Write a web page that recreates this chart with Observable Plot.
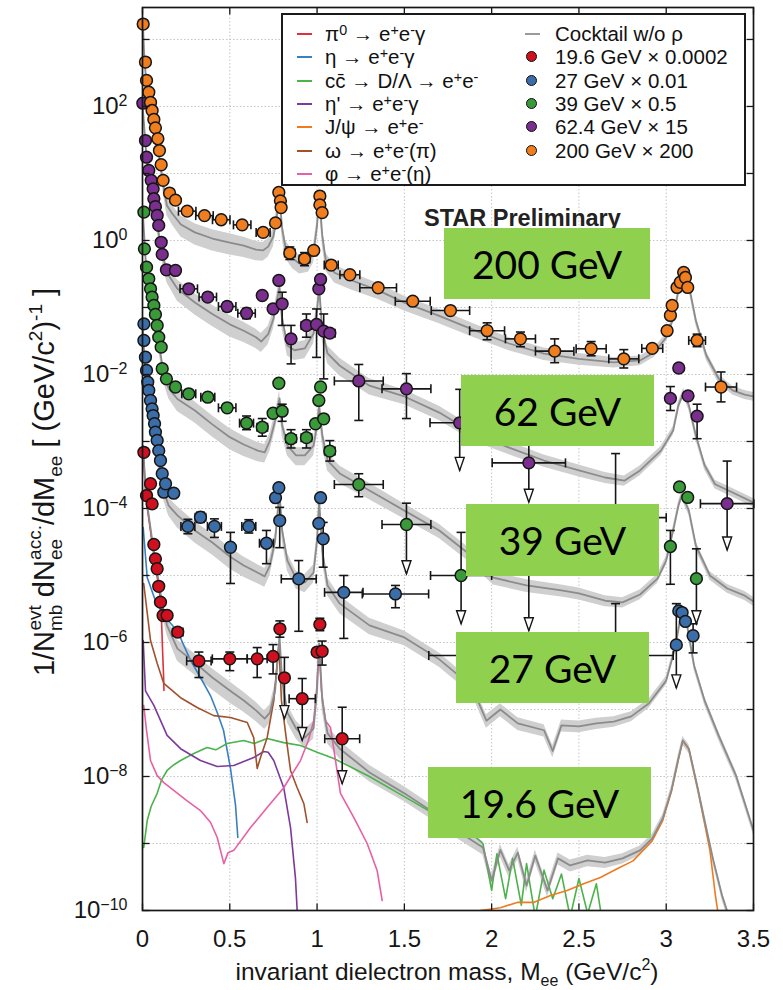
<!DOCTYPE html>
<html>
<head>
<meta charset="utf-8">
<script src="https://cdn.jsdelivr.net/npm/d3@7"></script>
<script src="https://cdn.jsdelivr.net/npm/@observablehq/plot@0.6"></script>
<style>
  body { margin: 0; background: #fff; font-family: "Liberation Sans", Arial, sans-serif; overflow: hidden; }
  #wrap { position: relative; width: 783px; height: 990px; }
  .legend { position: absolute; left: 281px; top: 13px; width: 465px; height: 173px; box-sizing: border-box;
            border: 2px solid #1a1a1a; background: #fff; font-size: 20.5px; color: #111; }
  .row { position: absolute; height: 22px; line-height: 22px; white-space: nowrap; }
  .row sup { font-size: 0.7em; vertical-align: 0.45em; line-height: 0; }
  .sw { position: absolute; top: 10px; width: 15px; height: 2px; }
  .mk { position: absolute; top: 5px; width: 9px; height: 9px; border-radius: 50%; border: 1.5px solid #111; }
  .tag { position: absolute; background: #8fd14f; color: #000; font-family: Lato, "Open Sans", sans-serif;
         font-size: 39px; display: flex; align-items: center; justify-content: center; }
</style>
</head>
<body>
<div id="wrap"></div>
<script>
// ---- axis ticks -----------------------------------------------------------
const massTicks = [0, 0.5, 1, 1.5, 2, 2.5, 3, 3.5];
const labelDecades = [1e-10, 1e-8, 1e-6, 1e-4, 1e-2, 1e0, 1e2];
const allDecades = [1e-10, 1e-9, 1e-8, 1e-7, 1e-6, 1e-5, 1e-4, 1e-3, 1e-2, 1e-1, 1e0, 1e1, 1e2, 1e3];
const yMin = 1e-10, yMax = 3000;

// ---- cocktail without rho, scaled per energy: [mass, yield] ----------------
const cocktail196 = [[0.003,8.7e-4],[0.02,1.56e-4],[0.04,6.6e-5],[0.06,2.8e-5],[0.08,1.32e-5],[0.10,6.0e-6],[0.12,3.0e-6],[0.14,1.8e-6],[0.2,8.1e-7],[0.3,5.0e-7],[0.4,3.0e-7],[0.5,1.92e-7],[0.58,1.36e-7],[0.65,9.7e-8],[0.70,7.3e-8],[0.73,9.0e-8],[0.76,1.92e-7],[0.785,1.23e-6],[0.80,2.7e-7],[0.83,9.0e-8],[0.88,5.2e-8],[0.93,3.8e-8],[0.98,5.2e-8],[1.0,1.92e-7],[1.012,9.7e-7],[1.03,1.36e-7],[1.06,4.4e-8],[1.13,2.6e-8],[1.3,1.15e-8],[1.5,5.6e-9],[1.65,3.1e-9],[1.8,1.56e-9],[1.95,8.7e-10],[2.0,2.8e-10],[2.05,8.0e-10],[2.1,3.96e-10],[2.15,7.3e-10],[2.2,2.36e-10],[2.25,6.6e-10],[2.32,1.99e-10],[2.38,6.0e-10],[2.45,4.7e-10],[2.55,5.6e-10],[2.65,5.2e-10],[2.75,6.0e-10],[2.85,7.9e-10],[2.92,1.19e-9],[2.98,2.36e-9],[3.03,6.2e-9],[3.07,1.86e-8],[3.095,3.45e-8],[3.13,2.6e-8],[3.18,6.8e-9],[3.22,2.2e-9],[3.27,5.6e-10],[3.32,1.67e-10],[3.36,8e-11]];
const cocktail27 = [[0.003,0.045],[0.02,0.0068],[0.04,0.0029],[0.06,0.00146],[0.08,7.3e-4],[0.10,3.7e-4],[0.12,1.86e-4],[0.15,1.1e-4],[0.2,7.9e-5],[0.3,4.7e-5],[0.4,3.1e-5],[0.5,1.92e-5],[0.58,1.41e-5],[0.66,1.1e-5],[0.70,9.7e-6],[0.73,1.41e-5],[0.76,3.33e-5],[0.785,1.73e-4],[0.80,4.7e-5],[0.83,1.67e-5],[0.88,9.0e-6],[0.93,7.9e-6],[0.98,1.1e-5],[1.0,3.33e-5],[1.012,1.32e-4],[1.03,2.36e-5],[1.06,7.1e-6],[1.13,3.8e-6],[1.3,1.8e-6],[1.5,1.19e-6],[1.7,5.6e-7],[1.8,3.4e-7],[1.9,1.8e-7],[1.97,6.8e-8],[2.05,1.0e-7],[2.15,6.2e-8],[2.3,4.9e-8],[2.35,2.4e-8],[2.4,5.8e-8],[2.5,5.6e-8],[2.6,6.2e-8],[2.7,6.6e-8],[2.8,7.9e-8],[2.9,1.23e-7],[3.0,2.7e-7],[3.05,8.1e-7],[3.09,3.0e-6],[3.12,1.8e-6],[3.16,4.5e-7],[3.22,1.36e-7],[3.3,4.1e-8],[3.4,1.03e-8],[3.5,1.56e-9]];
const cocktail39 = [[0.003,2.36],[0.02,0.42],[0.04,0.18],[0.06,0.09],[0.08,0.045],[0.10,0.023],[0.12,0.0107],[0.15,0.0062],[0.2,0.0043],[0.3,0.0029],[0.4,0.0018],[0.5,0.00116],[0.58,9.0e-4],[0.66,7.3e-4],[0.70,6.9e-4],[0.73,1.03e-3],[0.76,2.06e-3],[0.785,4.4e-3],[0.80,1.73e-3],[0.83,8.7e-4],[0.88,6.2e-4],[0.93,6.2e-4],[0.98,8.7e-4],[1.0,1.73e-3],[1.012,3.45e-3],[1.03,1.23e-3],[1.06,5.2e-4],[1.13,3.33e-4],[1.3,1.86e-4],[1.5,9.3e-5],[1.7,4.7e-5],[1.86,2.2e-5],[2.01,9.3e-6],[2.2,7.1e-6],[2.4,6.0e-6],[2.5,5.4e-6],[2.65,4.2e-6],[2.75,3.96e-6],[2.85,5.2e-6],[2.95,9.0e-6],[3.0,1.67e-5],[3.04,4.7e-5],[3.07,1.1e-4],[3.09,1.6e-4],[3.13,9.3e-5],[3.17,2.8e-5],[3.25,1.0e-5],[3.35,6.4e-6],[3.45,5.0e-6],[3.5,4.1e-6]];
const cocktail62 = [[0.003,87],[0.02,22],[0.04,7.9],[0.06,3.96],[0.08,2.0],[0.10,1.0],[0.12,0.54],[0.14,0.33],[0.2,0.19],[0.3,0.119],[0.4,0.08],[0.5,0.056],[0.58,0.045],[0.65,0.036],[0.68,0.031],[0.72,0.04],[0.75,0.068],[0.77,0.127],[0.785,0.2],[0.80,0.068],[0.83,0.027],[0.87,0.023],[0.93,0.0245],[0.98,0.041],[1.0,0.09],[1.012,0.2],[1.03,0.045],[1.06,0.0206],[1.13,0.0135],[1.3,0.0068],[1.5,0.0047],[1.7,0.0027],[1.9,0.0013],[2.1,8.1e-4],[2.3,5.2e-4],[2.5,3.7e-4],[2.65,2.9e-4],[2.76,2.6e-4],[2.85,3.7e-4],[2.97,7.3e-4],[3.04,1.46e-3],[3.07,3.45e-3],[3.10,5.4e-3],[3.13,3.45e-3],[3.17,1.23e-3],[3.22,4.4e-4],[3.28,2.3e-4],[3.38,1.73e-4],[3.5,1.23e-4]];
const cocktail200 = [[0.003,1560],[0.01,577],[0.02,262],[0.04,123],[0.06,66],[0.08,31],[0.10,15.6],[0.12,6.6],[0.14,3.33],[0.17,2.53],[0.22,1.73],[0.3,1.32],[0.4,1.07],[0.5,0.93],[0.58,0.84],[0.65,0.73],[0.69,0.71],[0.72,0.81],[0.75,1.15],[0.77,2.36],[0.785,4.4],[0.80,1.51],[0.82,0.76],[0.86,0.54],[0.90,0.45],[0.95,0.48],[0.98,0.66],[1.0,1.67],[1.012,4.7],[1.03,1.19],[1.05,0.50],[1.1,0.33],[1.2,0.253],[1.35,0.18],[1.5,0.118],[1.7,0.075],[1.9,0.046],[2.1,0.029],[2.3,0.0205],[2.5,0.0171],[2.7,0.0152],[2.85,0.0162],[2.93,0.0213],[3.0,0.0357],[3.04,0.0685],[3.07,0.179],[3.10,0.37],[3.13,0.213],[3.17,0.064],[3.23,0.0192],[3.3,0.0087],[3.38,0.0058],[3.45,0.005],[3.5,0.0047]];

// relative width of the cocktail systematic band vs. mass
const bandMass = [0, 0.1, 0.2, 0.5, 0.75, 1.1, 1.5, 2.5, 3.0, 3.5];
const bandFrac = [0.10, 0.25, 0.35, 0.35, 0.30, 0.30, 0.25, 0.20, 0.15, 0.15];

// ---- cocktail components at 19.6 GeV (x 0.0002): [mass, yield] -------------
const pi0Dalitz = [[0.003,8.0e-4],[0.02,1.4e-4],[0.04,6.0e-5],[0.06,2.5e-5],[0.08,1.15e-5],[0.10,5.0e-6],[0.105,3.6e-6],[0.11,1.8e-6],[0.115,7.6e-7],[0.12,3.6e-7],[0.123,1.92e-7]];
const etaDalitz = [[0.004,5.2e-5],[0.027,9.3e-6],[0.074,4.2e-6],[0.122,2.5e-6],[0.199,1.5e-6],[0.275,5.4e-7],[0.332,3.0e-7],[0.39,1.6e-7],[0.428,9e-8],[0.464,4.9e-8],[0.504,1.32e-8],[0.533,3.7e-9],[0.546,1.23e-9]];
const ccbar = [[0.007,8.7e-10],[0.027,2.2e-9],[0.05,3.6e-9],[0.084,5.6e-9],[0.11,9e-9],[0.141,1.23e-8],[0.18,1.5e-8],[0.218,1.73e-8],[0.294,2.2e-8],[0.37,2.7e-8],[0.42,2.5e-8],[0.485,3.1e-8],[0.58,3.45e-8],[0.64,3.1e-8],[0.714,3.7e-8],[0.809,3.2e-8],[0.905,2.9e-8],[1.0,2.3e-8],[1.096,1.86e-8],[1.3,1.0e-8],[1.5,5.0e-9],[1.7,2.5e-9],[1.9,1.3e-9],[1.95,1.0e-9],[2.0,2e-10],[2.03,7e-10],[2.08,1.5e-10],[2.12,6e-10],[2.17,1.2e-10],[2.2,5e-10],[2.25,8e-11],[2.3,4e-10],[2.35,1.5e-10],[2.4,3.5e-10],[2.45,8e-11],[2.5,3e-10],[2.55,9e-11],[2.6,2.5e-10],[2.63,8e-11]];
const etaPrime = [[0.004,1.07e-6],[0.017,1.9e-7],[0.065,1.15e-7],[0.141,4.1e-8],[0.218,2.6e-8],[0.332,1.73e-8],[0.428,1.41e-8],[0.523,1.46e-8],[0.637,1.92e-8],[0.695,2.36e-8],[0.72,2.3e-8],[0.752,1.73e-8],[0.809,6.8e-9],[0.848,1.73e-9],[0.876,3.1e-10],[0.886,1e-10],[0.89,5e-11]];
const jpsi = [[1.936,1e-10],[2.05,1.1e-10],[2.146,1.32e-10],[2.24,1.32e-10],[2.337,1.67e-10],[2.432,1.99e-10],[2.527,2.5e-10],[2.623,3.1e-10],[2.719,4.2e-10],[2.81,5.5e-10],[2.92,1.1e-9],[2.98,2.2e-9],[3.03,6.0e-9],[3.07,1.8e-8],[3.095,3.4e-8],[3.13,2.55e-8],[3.18,6.6e-9],[3.22,2.0e-9],[3.25,8e-10],[3.282,1.67e-10],[3.3,8e-11]];
const omegaDecay = [[0.007,7.6e-6],[0.046,1.07e-6],[0.084,4.9e-7],[0.122,2.45e-7],[0.218,1.5e-7],[0.313,1.07e-7],[0.408,8.1e-8],[0.504,7.6e-8],[0.60,6.4e-8],[0.637,3.8e-8],[0.657,1.32e-8],[0.676,1.92e-8],[0.714,3.8e-8],[0.752,1.36e-7],[0.781,9e-7],[0.796,1.36e-7],[0.825,3.45e-8],[0.848,1.23e-8],[0.886,6.8e-9],[0.924,3.96e-9],[0.943,2.06e-9]];
const phiDecay = [[0.007,1.15e-7],[0.023,4.9e-8],[0.046,1.73e-8],[0.084,1.03e-8],[0.122,8.1e-9],[0.179,6.2e-9],[0.252,4.4e-9],[0.332,3.1e-9],[0.39,2.06e-9],[0.428,1.23e-9],[0.466,5.0e-10],[0.49,7.3e-10],[0.523,7.9e-10],[0.619,1.73e-9],[0.714,3.45e-9],[0.809,6.8e-9],[0.905,1.73e-8],[0.95,3.45e-8],[0.981,6.8e-8],[0.997,1.92e-7],[1.011,9e-7],[1.025,1.92e-7],[1.048,6.8e-8],[1.077,5.4e-8],[1.134,5.6e-9],[1.21,2.45e-9],[1.287,1.0e-9],[1.344,3.96e-10],[1.373,1.41e-10]];

// ---- measured yields: [mass, yield, dM (half width or [lo, hi]), yLow, yHigh, upperLimit] ----
const data196 = [[0.008,6.9e-4],[0.023,1.56e-4],[0.046,2.34e-4],[0.055,1.17e-4],[0.065,2.9e-5],[0.074,1.77e-5],[0.084,1.26e-5],[0.093,6.9e-6],[0.103,4.0e-6],[0.118,2.53e-6],[0.141,2.53e-6],
  [0.202,1.43e-6,0.03],[0.323,5.3e-7,0.07,3.0e-7,7.2e-7],[0.50,5.7e-7,0.1,3.8e-7,7.2e-7],[0.657,5.7e-7,0.057,3.0e-7,8.4e-7],[0.748,6.2e-7,0,3.4e-7,9.3e-7],[0.787,1.6e-6,0,1.2e-6,2.1e-6],
  [0.813,2.97e-7,0,7.3e-8,6.0e-7,true],[0.915,1.45e-7,0.075,3.45e-8,2.9e-7,true],[1.0,7.2e-7],[1.016,1.86e-6,0,1.5e-6,2.3e-6],[1.029,7.4e-7,0,4.6e-7,1.05e-6],[1.144,3.66e-8,0.1,7.8e-9,1.08e-7,true]];
const data27 = [[0.008,0.057],[0.008,0.0322],[0.017,0.0181],[0.023,0.0115],[0.03,0.0077],[0.036,0.0058],[0.046,0.0041],[0.055,0.00307],[0.061,0.00244],[0.069,0.00184],[0.074,0.00138],[0.084,0.00104],[0.093,7.3e-4],[0.103,5.2e-4],[0.113,3.3e-4],[0.122,1.75e-4],[0.132,2.34e-4],[0.179,1.69e-4],
  [0.26,5.4e-5,0.04,4.2e-5,6.9e-5],[0.332,7.4e-5,0.03,6.2e-5,8.8e-5],[0.412,5.4e-5,0.04,3.7e-5,7e-5],[0.504,2.64e-5,0.02,7.6e-6,4.4e-5],[0.609,5.4e-5,0.04,4.3e-5,6.8e-5],[0.71,3.03e-5,0.04,1.5e-5,4.7e-5],
  [0.762,1.45e-4],[0.781,2.04e-4],[0.786,6.6e-5,0,2.6e-5,1.04e-4],[0.895,8.9e-6,0.1,1.47e-6,1.67e-5],[1.01,6.0e-5],[1.02,1.45e-4],[1.035,3.53e-5,0,1.33e-5,6.2e-5],
  [1.153,5.6e-6,0.11,1.15e-6,1.0e-5],[1.449,5.3e-6,0.19,3.3e-6,7.1e-6],[2.71,6.4e-7,[1.64,3.04],1.36e-7,3.8e-6,true],
  [3.058,9.2e-7,0,2.1e-7,3.8e-6,true],[3.072,2.96e-6],[3.091,2.8e-6],[3.11,2.06e-6],[3.154,1.26e-6,0,7.0e-7,1.9e-6]];
const data39 = [[0.008,2.65],[0.011,0.75],[0.023,0.40],[0.036,0.268],[0.046,0.19],[0.055,0.143],[0.065,0.107],[0.074,0.0787],[0.084,0.0538],[0.093,0.0361],[0.107,0.0256],[0.113,0.0122],[0.137,0.0086],[0.189,0.0065],
  [0.265,0.00515,0.04],[0.374,0.00458,0.04],[0.485,0.00318,0.05],[0.596,0.00188,0.04,0.0015,0.0024],[0.686,0.00163,0.03,0.0012,0.0022],[0.748,0.00264],[0.781,0.0074],[0.80,0.00283,0,0.002,0.0036],
  [0.851,0.0011,0.03,0.0008,0.0015],[0.939,0.00114,0.03,0.0008,0.0015],[0.991,0.00184],[1.01,0.0041],[1.02,0.0065],[1.038,0.00218],
  [1.073,7.2e-4,0.03,5.1e-4,1.03e-3],[1.239,2.28e-4,0.14,1.5e-4,3.3e-4],[1.512,5.77e-5,0.14,1.06e-5,1.2e-4,true],[1.825,1.0e-5,0.175,1.9e-6,4.4e-5,true],[2.213,1.9e-5,0.21,1.5e-6,4e-5,true],[2.71,7.3e-5,[2.42,3.0],1.2e-5,6.6e-4,true],
  [3.024,2.71e-5,0,7.4e-6,4.7e-5],[3.076,2.1e-4],[3.123,1.46e-4],[3.173,8.97e-6,0,1.9e-6,2.5e-5,true]];
const data62 = [[0.002,112],[0.017,31],[0.023,17.5],[0.036,11.1],[0.05,7.9],[0.061,5.9],[0.065,4.2],[0.074,3.2],[0.084,2.36],[0.093,1.68],[0.107,0.94],[0.113,0.62],[0.137,0.365],[0.189,0.357],
  [0.265,0.19,0.05],[0.374,0.143,0.05],[0.485,0.1035,0.05,0.088,0.12],[0.596,0.082,0.05,0.068,0.097],[0.686,0.151],[0.748,0.0955,0.02],[0.781,0.253],[0.80,0.1135,0,0.054,0.169],
  [0.851,0.034,0.02,0.0144,0.054],[0.939,0.0538,0.03,0.036,0.08],[0.997,0.0557,0,0.018,0.095],[1.01,0.19],[1.02,0.262],[1.038,0.0443,0,0.0086,0.08],[1.073,0.0414,0.03],
  [1.239,0.008,0.14,0.00206,0.0141],[1.512,0.0061,0.14,0.0022,0.0103],[1.817,0.0019,0.17,0.00037,0.006,true],[2.213,4.8e-4,0.21,1.24e-4,0.0012,true],
  [3.024,0.0044,0,0.0029,0.0066],[3.072,0.0125],[3.125,0.0048],[3.177,0.00239,0,0.0011,0.0036],[3.349,1.18e-4,0.153,2.4e-5,5.1e-4,true]];
const data200 = [[0.004,1700],[0.017,460],[0.023,245],[0.036,163],[0.046,115],[0.055,87],[0.065,64],[0.074,48],[0.088,33],[0.097,22],[0.107,13.5],[0.118,7.9],[0.155,5.1],[0.189,4.0],
  [0.256,2.74,0.05],[0.355,2.35,0.05],[0.451,2.04,0.05],[0.571,1.71,0.05],[0.691,1.32,0.04],[0.762,1.83],[0.781,5.2],[0.790,3.9],[0.794,3.1],
  [0.844,0.65,0.03,0.52,0.8],[0.928,0.53,0.03,0.42,0.66],[0.981,0.71,0.02],[1.016,4.6],[1.016,3.4],[1.029,2.6],
  [1.081,0.43,0.04],[1.188,0.308,0.057],[1.35,0.197,0.105],[1.548,0.124,0.1],[1.764,0.090,0.11],
  [1.974,0.045,0.1,0.033,0.059],[2.165,0.034,0.086,0.026,0.043],[2.361,0.0223,0.11,0.015,0.034],[2.57,0.0242,0.086,0.019,0.031],[2.757,0.0171,0.086,0.0125,0.0235],[2.92,0.0245,0.06],
  [3.005,0.045],[3.024,0.076],[3.034,0.107],[3.062,0.199],[3.081,0.238],[3.10,0.333],[3.11,0.28],[3.123,0.199],
  [3.177,0.0322,0.048,0.026,0.04],[3.314,0.0065,0.089,0.0039,0.0109]];

const seriesNames = ["19.6 GeV × 0.0002", "27 GeV × 0.01", "39 GeV × 0.5", "62.4 GeV × 15", "200 GeV × 200"];
const seriesColors = ["#d0101e", "#3b6ea8", "#3a9a3a", "#7a2e8e", "#f07d1e"];
const seriesData = [data196, data27, data39, data62, data200];
const seriesCocktail = [cocktail196, cocktail27, cocktail39, cocktail62, cocktail200];

const componentLabels = [
  "π<sup>0</sup> → e<sup>+</sup>e<sup>-</sup>γ",
  "η → e<sup>+</sup>e<sup>-</sup>γ",
  "cc\u0304 → D/Λ → e<sup>+</sup>e<sup>-</sup>",
  "η' → e<sup>+</sup>e<sup>-</sup>γ",
  "J/ψ → e<sup>+</sup>e<sup>-</sup>",
  "ω → e<sup>+</sup>e<sup>-</sup>(π)",
  "φ → e<sup>+</sup>e<sup>-</sup>(η)"
];
const componentColors = ["#e0303a", "#3a80c0", "#4ab34a", "#7d3a9a", "#f07a20", "#a0522d", "#e860a4"];
const componentData = [pi0Dalitz, etaDalitz, ccbar, etaPrime, jpsi, omegaDecay, phiDecay];

const energyTags = ["200 GeV", "62 GeV", "39 GeV", "27 GeV", "19.6 GeV"];

// ---- tables -------------------------------------------------------------
const band = d3.scaleLinear(bandMass, bandFrac).clamp(true);
const cocktailRows = seriesCocktail.flatMap((c, i) => c.map(([m, y]) =>
  ({s: seriesNames[i], m, y, lo: y * (1 - band(m)), hi: y * (1 + band(m))})));
const componentRows = componentData.flatMap((c, i) => c.map(([m, y]) =>
  ({c: i, color: componentColors[i], m, y})));
const pointRows = seriesData.flatMap((d, i) => d.map(([m, y, dm = 0, lo = null, hi = null, lim = false]) => ({
  s: seriesNames[i], color: seriesColors[i], m, y,
  x1: Array.isArray(dm) ? dm[0] : m - dm, x2: Array.isArray(dm) ? dm[1] : m + dm,
  hasX: Array.isArray(dm) || dm > 0, lo, hi, lim})));

const xBars = pointRows.filter(d => d.hasX);
const yBars = pointRows.filter(d => d.lo != null);
const xCaps = xBars.flatMap(d => [{x: d.x1, y: d.y}, {x: d.x2, y: d.y}]);
const yCaps = yBars.flatMap(d => d.lim ? [{x: d.m, y: d.hi}] : [{x: d.m, y: d.lo}, {x: d.m, y: d.hi}]);
const limits = yBars.filter(d => d.lim);

// ---- symbols drawn at fixed pixel size ----------------------------------
const sym = f => ({draw(ctx) { f(ctx); }});
const capH = sym(c => { c.moveTo(-4.5, 0); c.lineTo(4.5, 0); });
const capV = sym(c => { c.moveTo(0, -4.5); c.lineTo(0, 4.5); });
const arrowDown = sym(c => { c.moveTo(0, 0); c.lineTo(-4.5, -13); c.lineTo(4.5, -13); c.closePath(); });
const tickRight = sym(c => { c.moveTo(0, 0); c.lineTo(7, 0); });
const tickLeft = sym(c => { c.moveTo(0, 0); c.lineTo(-7, 0); });
const tickDown = sym(c => { c.moveTo(0, 0); c.lineTo(0, 7); });
const tickUp = sym(c => { c.moveTo(0, 0); c.lineTo(0, -7); });

const ink = "#161616";
const svg = Plot.plot({
  width: 783, height: 990,
  marginLeft: 142, marginRight: 30, marginTop: 7, marginBottom: 80,
  style: {fontFamily: "'Liberation Sans', Arial, sans-serif", background: "#fff", color: ink},
  x: {domain: [0, 3.5]},
  y: {type: "log", domain: [yMin, yMax]},
  color: {type: "identity"},
  marks: [
    Plot.ruleX(massTicks, {stroke: "#c4c4c4", strokeDasharray: "1.5,2"}),
    Plot.ruleY(allDecades, {stroke: "#c4c4c4", strokeDasharray: "1.5,2"}),
    Plot.areaY(cocktailRows, {x: "m", y1: "lo", y2: "hi", z: "s", fill: "#cfcfcf", clip: true}),
    Plot.line(componentRows, {x: "m", y: "y", z: "c", stroke: "color", strokeWidth: 1.6, clip: true}),
    Plot.line(cocktailRows, {x: "m", y: "y", z: "s", stroke: "#8b8b8b", strokeWidth: 1.8, clip: true}),
    Plot.link(xBars, {x1: "x1", x2: "x2", y1: "y", y2: "y", stroke: ink, strokeWidth: 1.6}),
    Plot.link(yBars, {x1: "m", x2: "m", y1: "lo", y2: "hi", stroke: ink, strokeWidth: 1.6}),
    Plot.dot(xCaps, {x: "x", y: "y", symbol: capV, fill: "none", stroke: ink, strokeWidth: 1.6}),
    Plot.dot(yCaps, {x: "x", y: "y", symbol: capH, fill: "none", stroke: ink, strokeWidth: 1.6}),
    Plot.dot(limits, {x: "m", y: "lo", symbol: arrowDown, fill: "#fff", stroke: ink, strokeWidth: 1.4}),
    Plot.dot(pointRows, {x: "m", y: "y", r: 5.9, fill: "color", stroke: ink, strokeWidth: 1.5}),
    Plot.dot(allDecades, {x: () => 0, y: d => d, symbol: tickRight, fill: "none", stroke: ink, strokeWidth: 1.3}),
    Plot.dot(allDecades, {x: () => 3.5, y: d => d, symbol: tickLeft, fill: "none", stroke: ink, strokeWidth: 1.3}),
    Plot.dot(massTicks, {x: d => d, y: () => yMax, symbol: tickDown, fill: "none", stroke: ink, strokeWidth: 1.3}),
    Plot.dot(massTicks, {x: d => d, y: () => yMin, symbol: tickUp, fill: "none", stroke: ink, strokeWidth: 1.3}),
    Plot.axisX({ticks: massTicks, tickFormat: d => String(d), tickSize: 0, tickPadding: 19, fontSize: 24, label: null}),
    Plot.axisY({ticks: labelDecades, tickFormat: d => "10^" + Math.round(Math.log10(d)), tickSize: 0, tickPadding: 15, fontSize: 24, label: null}),
    Plot.frame({stroke: ink, strokeWidth: 1.7})
  ]
});

// powers of ten with a raised exponent
d3.select(svg).selectAll('g[aria-label="y-axis tick label"] text').each(function () {
  const e = this.textContent.split("^")[1];
  if (e === undefined) return;
  const t = d3.select(this);
  t.text("10");
  t.append("tspan").attr("dy", "-0.5em").attr("font-size", "16px").text(e.replace("-", "−"));
});

const root = d3.select(svg);
// x-axis title
const xt = root.append("text").attr("x", 447).attr("y", 980).attr("text-anchor", "middle")
  .attr("font-size", 24.5).attr("fill", ink);
xt.append("tspan").text("invariant dielectron mass, M");
xt.append("tspan").attr("font-size", 16).attr("dy", 6).text("ee");
xt.append("tspan").attr("dy", -6).text(" (GeV/c");
xt.append("tspan").attr("font-size", 16).attr("dy", -10).text("2");
xt.append("tspan").attr("dy", 10).text(")");

// y-axis title
const yt = root.append("text").attr("transform", "translate(54,482) rotate(-90)")
  .attr("text-anchor", "middle").attr("font-size", 29).attr("fill", ink);
yt.append("tspan").text("1/N");
yt.append("tspan").attr("font-size", 19).attr("dy", 8).text("mb");
yt.append("tspan").attr("font-size", 19).attr("dx", -26).attr("dy", -21).text("evt");
yt.append("tspan").attr("dy", 13).text(" dN");
yt.append("tspan").attr("font-size", 19).attr("dy", 8).text("ee");
yt.append("tspan").attr("font-size", 19).attr("dx", -21).attr("dy", -21).text("acc.");
yt.append("tspan").attr("dy", 13).text("/dM");
yt.append("tspan").attr("font-size", 19).attr("dy", 8).text("ee");
yt.append("tspan").attr("dy", -8).text(" [ (GeV/c");
yt.append("tspan").attr("font-size", 19).attr("dy", -12).text("2");
yt.append("tspan").attr("dy", 12).text(")");
yt.append("tspan").attr("font-size", 19).attr("dy", -12).text("-1");
yt.append("tspan").attr("dy", 12).text(" ]");

root.append("text").attr("x", 424).attr("y", 226).attr("text-anchor", "start")
  .attr("font-size", 23.5).attr("font-weight", "bold").attr("fill", "#222").text("STAR Preliminary");

const wrap = document.getElementById("wrap");
wrap.appendChild(svg);

// legend
const legend = d3.select(wrap).append("div").attr("class", "legend");
componentLabels.forEach((html, i) => {
  const r = legend.append("div").attr("class", "row").style("left", "0px").style("top", (8 + i * 23.3) + "px");
  r.append("div").attr("class", "sw").style("left", "14px").style("background", componentColors[i]);
  r.append("div").style("position", "absolute").style("left", "42px").html(html);
});
{
  const r = legend.append("div").attr("class", "row").style("left", "0px").style("top", "8px");
  r.append("div").attr("class", "sw").style("left", "242px").style("background", "#9a9a9a");
  r.append("div").style("position", "absolute").style("left", "272px").text("Cocktail w/o ρ");
}
seriesNames.forEach((name, i) => {
  const r = legend.append("div").attr("class", "row").style("left", "0px").style("top", (8 + (i + 1) * 23.3) + "px");
  r.append("div").attr("class", "mk").style("left", "243px").style("background", seriesColors[i]);
  r.append("div").style("position", "absolute").style("left", "272px").text(name);
});

// energy tags
const tagBoxes = [[444, 228, 206, 71], [461, 375, 193, 71], [466, 504, 193, 72], [456, 632, 193, 71], [428, 767, 223, 71]];
energyTags.forEach((t, i) => {
  const [l, tp, w, h] = tagBoxes[i];
  d3.select(wrap).append("div").attr("class", "tag")
    .style("left", l + "px").style("top", tp + "px").style("width", w + "px").style("height", h + "px").text(t);
});
</script>
</body>
</html>
